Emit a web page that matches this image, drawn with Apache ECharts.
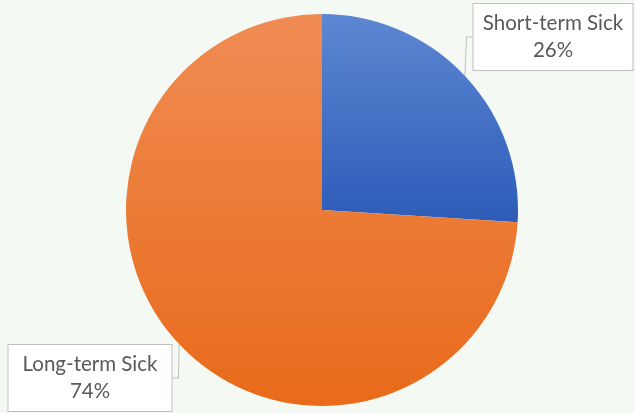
<!DOCTYPE html>
<html>
<head>
<meta charset="utf-8">
<script src="https://cdn.jsdelivr.net/npm/echarts@6/dist/echarts.min.js"></script>
<style>
  html, body { margin: 0; padding: 0; background: #f5f9f3; }
  #main { width: 635px; height: 413px; }
</style>
</head>
<body>
<div id="main"></div>
<script>
const categories = ["Short-term Sick", "Long-term Sick"];
const values = [26, 74];
// where each callout box sits (centre)
const labelSpots = [[553, 37], [90, 378]];
const labelWidths = [145, 149];

var chart = echarts.init(document.getElementById("main"));

var blueFill = new echarts.graphic.LinearGradient(0, 0, 0, 1, [
  { offset: 0, color: "#5d87d2" },
  { offset: 1, color: "#2d5cb8" }
]);
var orangeFill = new echarts.graphic.LinearGradient(0, 0, 0, 1, [
  { offset: 0, color: "#f08c54" },
  { offset: 1, color: "#e86a1a" }
]);
var fills = [blueFill, orangeFill];

var option = {
  backgroundColor: "#f5f9f3",
  animation: false,
  series: [
    {
      type: "pie",
      center: [322, 210],
      radius: 196,
      startAngle: 90,
      clockwise: true,
      data: categories.map((c, i) => ({
        name: c,
        value: values[i],
        itemStyle: { color: fills[i] },
        label: { width: labelWidths[i] }
      })),
      label: {
        show: true,
        formatter: "{b}\n{d}%",
        fontFamily: "Lato",
        fontSize: 20.5,
        lineHeight: 27,
        color: "#595959",
        align: "center",
        overflow: "none",
        backgroundColor: "#ffffff",
        borderColor: "#bfbfbf",
        borderWidth: 1,
        padding: [6, 7, 6, 7]
      },
      labelLine: {
        show: true,
        length: 10,
        length2: 6,
        lineStyle: { color: "#bfbfbf", width: 1 }
      },
      labelLayout: function (params) {
        var p = labelSpots[params.dataIndex];
        return {
          x: p[0],
          y: p[1],
          align: "center",
          verticalAlign: "middle"
        };
      }
    }
  ]
};

chart.setOption(option);
</script>
</body>
</html>
